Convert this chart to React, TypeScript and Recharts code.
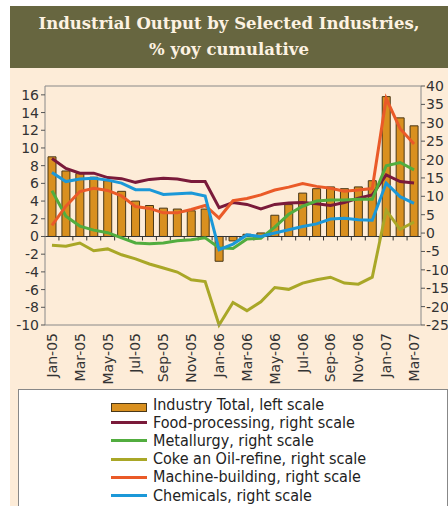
import { ComposedChart, Bar, Line, XAxis, YAxis, ReferenceLine } from "recharts"

const months = [
  "Jan-05", "Feb-05", "Mar-05", "Apr-05", "May-05", "Jun-05", "Jul-05", "Aug-05", "Sep-05",
  "Oct-05", "Nov-05", "Dec-05", "Jan-06", "Feb-06", "Mar-06", "Apr-06", "May-06", "Jun-06",
  "Jul-06", "Aug-06", "Sep-06", "Oct-06", "Nov-06", "Dec-06", "Jan-07", "Feb-07", "Mar-07",
]

// left scale
const industryTotal = [
  9.0, 7.4, 7.1, 6.7, 6.3, 5.1, 4.0, 3.5, 3.2, 3.1, 2.9, 3.1, -2.8, -0.5, 0.25, 0.4, 2.4, 3.6,
  4.9, 5.4, 5.6, 5.4, 5.6, 6.3, 15.8, 13.4, 12.5,
]

// right scale
const foodProcessing = [
  20.3, 17.6, 16.3, 16.3, 15.1, 14.8, 13.8, 14.6, 14.9, 14.7, 14.0, 14.0, 6.9, 8.3, 7.8, 6.6,
  7.8, 8.2, 8.3, 8.0, 7.5, 8.3, 9.5, 10.4, 15.8, 14.0, 13.6,
]
const metallurgy = [
  11.5, 4.6, 1.9, 0.8, 0.1, -1.3, -2.7, -2.9, -2.7, -2.1, -1.8, -1.3, -4.0, -4.2, -1.6, -1.4,
  1.6, 5.1, 7.3, 8.7, 9.0, 9.0, 9.2, 9.2, 18.3, 19.2, 17.2,
]
const cokeOil = [
  -3.3, -3.6, -2.7, -4.8, -4.3, -5.9, -7.0, -8.4, -9.5, -10.6, -12.7, -13.2, -25, -18.9, -21.1,
  -18.7, -14.8, -15.3, -13.6, -12.7, -12.0, -13.6, -13.9, -12.0, 6.2, 1.0, 3.0,
]
const machineBuilding = [
  2.1, 7.3, 11.3, 12.2, 11.6, 10.1, 7.2, 6.7, 5.5, 5.5, 6.4, 7.5, 4.1, 8.8, 9.4, 10.4, 11.7,
  12.5, 13.5, 12.7, 12.2, 11.4, 11.7, 12.1, 36.6, 28.4, 24.2,
]
const chemicals = [
  16.5, 14.0, 14.7, 14.9, 14.4, 13.6, 11.8, 11.8, 10.5, 10.7, 10.9, 10.1, -4.5, -3.0, -0.5, -0.9,
  0.0, 0.9, 1.8, 2.5, 3.8, 4.0, 3.6, 3.5, 13.6, 9.9, 8.1,
]

const leftTicks = [-10, -8, -6, -4, -2, 0, 2, 4, 6, 8, 10, 12, 14, 16]
const rightTicks = [-25, -20, -15, -10, -5, 0, 5, 10, 15, 20, 25, 30, 35, 40]

const lines = [
  { key: "food", name: "Food-processing, right scale", color: "#7a1a3a", values: foodProcessing },
  { key: "metal", name: "Metallurgy, right scale", color: "#52ad3f", values: metallurgy },
  { key: "coke", name: "Coke an Oil-refine, right scale", color: "#a9a727", values: cokeOil },
  { key: "machine", name: "Machine-building, right scale", color: "#ea5a28", values: machineBuilding },
  { key: "chem", name: "Chemicals, right scale", color: "#1b98d8", values: chemicals },
]

const data = months.map((m, i) => {
  const row: any = { month: m, total: industryTotal[i] }
  lines.forEach((l) => (row[l.key] = l.values[i]))
  return row
})

const tickFont = { fontFamily: "DejaVu Sans", fontSize: 14, fill: "#333" }

const MonthTick = ({ x, y, payload }: any) => (
  <text
    x={x}
    y={y}
    dy="0.35em"
    transform={`rotate(-90 ${x} ${y})`}
    textAnchor="end"
    {...tickFont}
  >
    {payload.value}
  </text>
)

// zero line with small ticks between months
const ZeroLine = (p: any) => {
  const step = (p.x2 - p.x1) / months.length
  return (
    <g>
      <line x1={p.x1} y1={p.y1} x2={p.x2} y2={p.y2} stroke="#333" strokeWidth={1.2} />
      {months.slice(1).map((m, i) => (
        <line
          key={m}
          x1={p.x1 + step * (i + 1)}
          x2={p.x1 + step * (i + 1)}
          y1={p.y1}
          y2={p.y1 + 4}
          stroke="#333"
        />
      ))}
    </g>
  )
}

export default function App() {
  return (
    <div style={{ position: "absolute", left: 0, top: 0, width: 448, height: 506, overflow: "hidden", background: "#fff" }}>
      <div style={{ position: "absolute", left: 10, top: 68, width: 438, height: 438, background: "#fdecd8" }} />
      <div
        style={{
          position: "absolute", left: 10, top: 6, width: 438, height: 62, background: "#676640",
          color: "#fdf2e2", fontFamily: "'DejaVu Serif'", fontWeight: "bold", fontSize: 16.5,
          textAlign: "center", lineHeight: "26px", paddingTop: 5, boxSizing: "border-box",
        }}
      >
        Industrial Output by Selected Industries,
        <br />% yoy cumulative
      </div>
      <div style={{ position: "absolute", left: 0, top: 0 }}>
        <ComposedChart width={448} height={390} data={data} margin={{ top: 86, right: 0, bottom: 10, left: 0 }}>
          <XAxis
            dataKey="month"
            interval={1}
            tick={<MonthTick />}
            tickLine={false}
            axisLine={{ stroke: "#888" }}
            height={55}
          />
          <YAxis
            yAxisId="left"
            domain={[-10, 17]}
            ticks={leftTicks}
            interval={0}
            width={45}
            tick={tickFont}
            tickSize={4}
            tickMargin={2}
            axisLine={{ stroke: "#888" }}
            tickLine={{ stroke: "#555" }}
          />
          <YAxis
            yAxisId="right"
            orientation="right"
            domain={[-25, 40]}
            ticks={rightTicks}
            interval={0}
            width={27}
            tick={{ ...tickFont, textAnchor: "start" }}
            tickSize={4}
            tickMargin={1}
            axisLine={{ stroke: "#888" }}
            tickLine={{ stroke: "#555" }}
          />
          <ReferenceLine yAxisId="left" y={17} stroke="#888" />
          <Bar
            yAxisId="left"
            dataKey="total"
            fill="#d9901f"
            stroke="#4a3818"
            strokeWidth={1}
            barSize={8}
            isAnimationActive={false}
          />
          <ReferenceLine yAxisId="left" y={0} shape={<ZeroLine />} />
          {lines.map((l) => (
            <Line
              key={l.key}
              yAxisId="right"
              dataKey={l.key}
              name={l.name}
              stroke={l.color}
              strokeWidth={3}
              dot={false}
              type="linear"
              isAnimationActive={false}
            />
          ))}
        </ComposedChart>
      </div>
      <div
        style={{
          position: "absolute", left: 18, top: 389, width: 430, height: 130, background: "#fff",
          border: "1px solid #888", boxSizing: "border-box", paddingTop: 5, paddingLeft: 92,
          fontFamily: "'DejaVu Sans Condensed', 'DejaVu Sans'", fontStretch: "condensed", fontSize: 16,
          color: "#222",
        }}
      >
        <div style={{ display: "flex", alignItems: "center", height: 18.2 }}>
          <span style={{ width: 34, height: 7, background: "#d9901f", border: "1px solid #4a3818", marginRight: 6, marginTop: 7 }} />
          Industry Total, left scale
        </div>
        {lines.map((l) => (
          <div key={l.key} style={{ display: "flex", alignItems: "center", height: 18.2 }}>
            <span style={{ width: 36, height: 3, background: l.color, marginRight: 6, marginTop: 1 }} />
            {l.name}
          </div>
        ))}
      </div>
    </div>
  )
}
